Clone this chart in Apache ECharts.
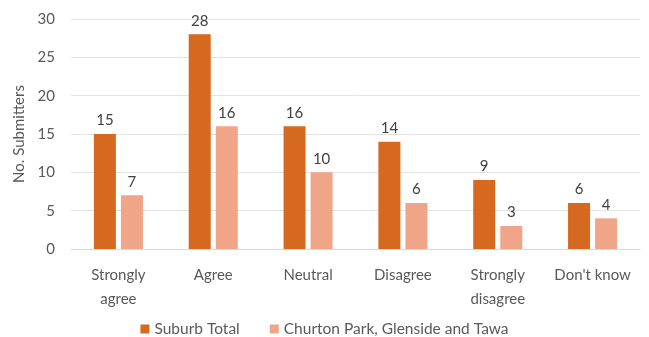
<!DOCTYPE html>
<html>
<head>
<meta charset="utf-8">
<script src="https://cdn.jsdelivr.net/npm/echarts@6/dist/echarts.min.js"></script>
<style>
  html, body { margin: 0; padding: 0; background: #ffffff; }
  #chart { width: 649px; height: 337px; }
</style>
</head>
<body>
<div id="chart"></div>
<script>
// Survey responses by category
const categories = ['Strongly\nagree', 'Agree', 'Neutral', 'Disagree', 'Strongly\ndisagree', "Don't know"];
const suburbTotal = [15, 28, 16, 14, 9, 6];
const localArea = [7, 16, 10, 6, 3, 4];
const seriesNames = ['Suburb Total', 'Churton Park, Glenside and Tawa'];

const textColor = '#595959';
const fontFamily = 'Lato, "Open Sans", sans-serif';

const chart = echarts.init(document.getElementById('chart'), null, { renderer: 'canvas' });

const labelStyle = {
  show: true,
  position: 'top',
  distance: 6,
  color: '#404040',
  fontSize: 15,
  fontFamily: fontFamily
};

chart.setOption({
  animation: false,
  backgroundColor: '#ffffff',
  grid: { left: 71, right: 9, top: 19, bottom: 88 },
  legend: {
    top: 316,
    left: 'center',
    itemWidth: 9,
    itemHeight: 9,
    itemGap: 30,
    icon: 'rect',
    textStyle: { color: textColor, fontSize: 15.5, fontFamily: fontFamily },
    data: seriesNames
  },
  xAxis: {
    type: 'category',
    data: categories,
    axisLine: { lineStyle: { color: '#d9d9d9' } },
    axisTick: { show: false },
    axisLabel: { interval: 0, color: textColor, fontSize: 15, fontFamily: fontFamily, margin: 14, lineHeight: 24 }
  },
  yAxis: {
    type: 'value',
    min: 0,
    max: 30,
    interval: 5,
    name: 'No. Submitters',
    nameLocation: 'middle',
    nameGap: 40,
    nameTextStyle: { color: textColor, fontSize: 15, fontFamily: fontFamily },
    axisLine: { show: false },
    axisTick: { show: false },
    axisLabel: { color: textColor, fontSize: 15, fontFamily: fontFamily, margin: 16 },
    splitLine: { lineStyle: { color: '#e3e3e3' } }
  },
  series: [
    {
      name: seriesNames[0],
      type: 'bar',
      data: suburbTotal,
      barWidth: 22,
      barGap: '23%',
      itemStyle: { color: '#d4691f' },
      label: labelStyle
    },
    {
      name: seriesNames[1],
      type: 'bar',
      data: localArea,
      barWidth: 22,
      itemStyle: { color: '#f0a488' },
      label: labelStyle
    }
  ]
});
</script>
</body>
</html>
